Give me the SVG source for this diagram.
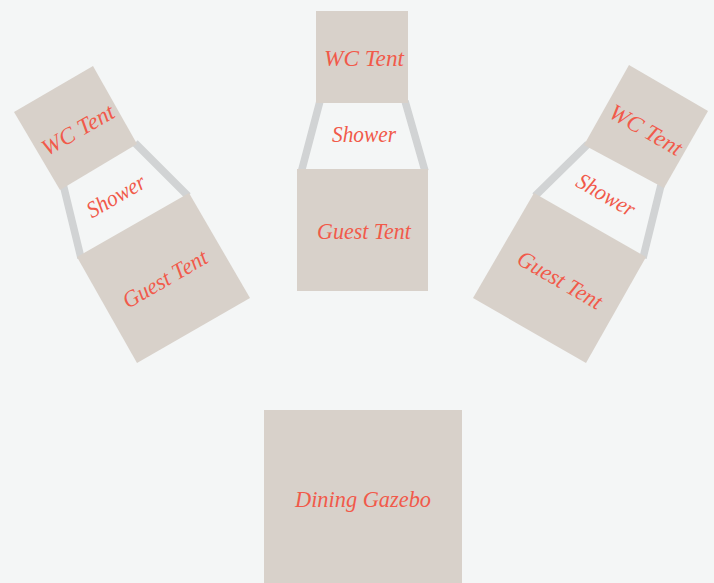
<svg xmlns="http://www.w3.org/2000/svg" width="714" height="583" viewBox="0 0 714 583">
<style>
.t{fill:#d8d1ca}
.l{fill:#f15a4a;font-family:"Liberation Serif","Times New Roman",serif;font-style:italic;font-size:23px;text-anchor:middle;dominant-baseline:central}
.c{stroke:#d1d3d4;stroke-width:7.500;fill:none}
</style>
<rect width="714" height="583" fill="#f4f6f6"/>
<g id="connectors">
<path class="c" d="M320 101L301.500 171M405 101L425 171"/>
<path class="c" d="M63.500 186L81 258M135 143L188 196"/>
<path class="c" d="M588 144L535 196M661 185L643 258"/>
</g>
<g id="wc-left"><polygon class="t" points="93,66 14,112 60,190 137,144"/><text class="l" textLength="80" lengthAdjust="spacingAndGlyphs" transform="translate(78 130) rotate(-30)">WC Tent</text></g>
<g id="shower-left"><text class="l" textLength="64" lengthAdjust="spacingAndGlyphs" transform="translate(116 196) rotate(-30)">Shower</text></g>
<g id="guest-left"><polygon class="t" points="189,193 77,257 137,363 250,298"/><text class="l" textLength="94" lengthAdjust="spacingAndGlyphs" transform="translate(165 279) rotate(-30)">Guest Tent</text></g>
<g id="wc-center"><rect class="t" x="316" y="11" width="92" height="92"/><text class="l" textLength="80" lengthAdjust="spacingAndGlyphs" transform="translate(364 58)">WC Tent</text></g>
<g id="shower-center"><text class="l" textLength="64" lengthAdjust="spacingAndGlyphs" transform="translate(364 134)">Shower</text></g>
<g id="guest-center"><rect class="t" x="297" y="169" width="131" height="122"/><text class="l" textLength="94" lengthAdjust="spacingAndGlyphs" transform="translate(364 231)">Guest Tent</text></g>
<g id="wc-right"><polygon class="t" points="629,65 708,111 664,188 584,145"/><text class="l" textLength="80" lengthAdjust="spacingAndGlyphs" transform="translate(646 130) rotate(30)">WC Tent</text></g>
<g id="shower-right"><text class="l" textLength="64" lengthAdjust="spacingAndGlyphs" transform="translate(606 195) rotate(30)">Shower</text></g>
<g id="guest-right"><polygon class="t" points="534,193 646,257 586,363 473,298"/><text class="l" textLength="94" lengthAdjust="spacingAndGlyphs" transform="translate(560 280) rotate(30)">Guest Tent</text></g>
<g id="dining-gazebo"><rect class="t" x="264" y="410" width="198" height="173"/><text class="l" textLength="136" lengthAdjust="spacingAndGlyphs" transform="translate(363 499)">Dining Gazebo</text></g>
</svg>
